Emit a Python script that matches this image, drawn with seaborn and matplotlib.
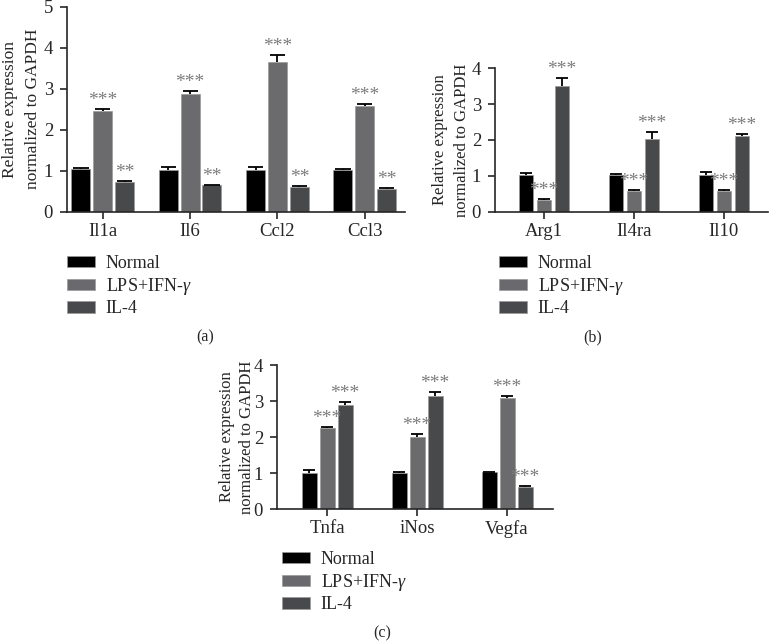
import matplotlib
matplotlib.use("Agg")
import matplotlib.pyplot as plt
import matplotlib.patches as mpatches
import seaborn as sns
import pandas as pd

# Données
groupes = ["Normal", "LPS+IFN-$\\gamma$", "IL-4"]
couleurs = ["#000000", "#6a6a6e", "#47494c"]

genes_a = ["Il1a", "Il6", "Ccl2", "Ccl3"]
normal_a = [1.03, 1.01, 1.02, 1.02]
normal_a_err = [0.03, 0.07, 0.06, 0.01]
lps_a = [2.45, 2.87, 3.65, 2.57]
lps_a_err = [0.06, 0.08, 0.18, 0.06]
il4_a = [0.73, 0.65, 0.61, 0.55]
il4_a_err = [0.03, 0.01, 0.02, 0.03]
sig_a = [["", "", "", ""], ["***"] * 4, ["**"] * 4]

genes_b = ["Arg1", "Il4ra", "Il10"]
normal_b = [1.02, 1.02, 1.02]
normal_b_err = [0.05, 0.04, 0.10]
lps_b = [0.34, 0.59, 0.58]
lps_b_err = [0.02, 0.02, 0.02]
il4_b = [3.51, 2.02, 2.11]
il4_b_err = [0.21, 0.21, 0.06]
sig_b = [["", "", ""], ["***"] * 3, ["***"] * 3]

genes_c = ["Tnfa", "iNos", "Vegfa"]
normal_c = [1.01, 1.01, 1.02]
normal_c_err = [0.07, 0.01, 0.02]
lps_c = [2.24, 2.01, 3.08]
lps_c_err = [0.03, 0.08, 0.06]
il4_c = [2.89, 3.14, 0.62]
il4_c_err = [0.08, 0.11, 0.02]
sig_c = [["", "", ""], ["***"] * 3, ["***"] * 3]

W, H = 770, 641

sns.set_style("ticks")
plt.rcParams['font.family'] = ['Liberation Serif', 'DejaVu Serif']
plt.rcParams['mathtext.fontset'] = 'custom'
plt.rcParams['mathtext.it'] = 'Liberation Serif:italic'
plt.rcParams['mathtext.rm'] = 'Liberation Serif'

fig = plt.figure(figsize=(W / 100, H / 100), dpi=100)


def ejes_px(izq, arriba, der, abajo):
    return fig.add_axes([izq / W, 1 - abajo / H, (der - izq) / W, (abajo - arriba) / H])


def panel(ax, genes, valores, errores, sigs, ymax, xlim, ancho, hueco, lab_x, lab_fs, lab_sp):
    filas = []
    for g, vals in zip(groupes, valores):
        for gen, v in zip(genes, vals):
            filas.append({"gen": gen, "grupo": g, "valor": v})
    df = pd.DataFrame(filas)
    sns.barplot(data=df, x="gen", y="valor", hue="grupo", hue_order=groupes,
                palette=couleurs, width=ancho, gap=hueco, errorbar=None,
                edgecolor="#9a9a9a", linewidth=0.5, legend=False, ax=ax)
    barras = list(ax.containers)
    for i, cont in enumerate(barras):
        for b, e, s in zip(cont, errores[i], sigs[i]):
            x = b.get_x() + b.get_width() / 2
            h = b.get_height()
            cw = b.get_width() * 0.4
            # barre d'erreur vers le haut seulement
            ax.vlines(x, h, h + e, color="black", lw=1.3, zorder=3)
            ax.hlines(h + e, x - cw, x + cw, color="black", lw=1.3, zorder=3)
            if s:
                ax.text(x, h + e, s, ha="center", va="bottom", fontsize=14,
                        color="#7c7c7c")
    ax.set_ylim(0, ymax)
    ax.set_xlim(*xlim)
    ax.set_yticks(range(0, ymax + 1))
    ax.set_xlabel("")
    ax.set_ylabel("Relative expression\nnormalized to GAPDH", fontsize=lab_fs,
                  linespacing=lab_sp)
    ax.yaxis.set_label_coords(lab_x, 0.5)
    sns.despine(ax=ax)
    for sp in ["left", "bottom"]:
        ax.spines[sp].set_linewidth(1.2)
    ax.tick_params(axis="both", length=5, width=1.2, labelsize=13.5)
    ax.tick_params(axis="y", pad=5)
    ax.tick_params(axis="x", pad=3)


def leyenda(x, y):
    mangos = [mpatches.Patch(facecolor=c, edgecolor="#9a9a9a", linewidth=0.5) for c in couleurs]
    fig.legend(mangos, groupes, loc="upper left", bbox_to_anchor=(x / W, 1 - y / H),
               frameon=False, fontsize=13, handlelength=1.55, handleheight=0.6,
               handletextpad=0.6, labelspacing=0.2, borderpad=0, borderaxespad=0)


ax_a = ejes_px(67, 6.7, 405, 211.7)
panel(ax_a, genes_a, [normal_a, lps_a, il4_a], [normal_a_err, lps_a_err, il4_a_err],
      sig_a, 5, (-0.41, 3.46), 0.75, 0.13, -0.077, 12.5, 1.6)

ax_b = ejes_px(495, 68.3, 768, 211.7)
panel(ax_b, genes_b, [normal_b, lps_b, il4_b], [normal_b_err, lps_b_err, il4_b_err],
      sig_b, 4, (-0.544, 2.49), 0.6, 0.2, -0.092, 12, 1.45)

ax_c = ejes_px(277, 365, 553, 509)
panel(ax_c, genes_c, [normal_c, lps_c, il4_c], [normal_c_err, lps_c_err, il4_c_err],
      sig_c, 4, (-0.556, 2.51), 0.6, 0.17, -0.080, 12, 1.33)

leyenda(67, 255)
leyenda(499, 255)
leyenda(282, 551)

fig.text(205 / W, 1 - 337 / H, "(a)", ha="center", va="center", fontsize=11.5)
fig.text(593 / W, 1 - 337 / H, "(b)", ha="center", va="center", fontsize=11.5)
fig.text(382 / W, 1 - 633 / H, "(c)", ha="center", va="center", fontsize=11.5)

fig.savefig("out.png", dpi=100)
